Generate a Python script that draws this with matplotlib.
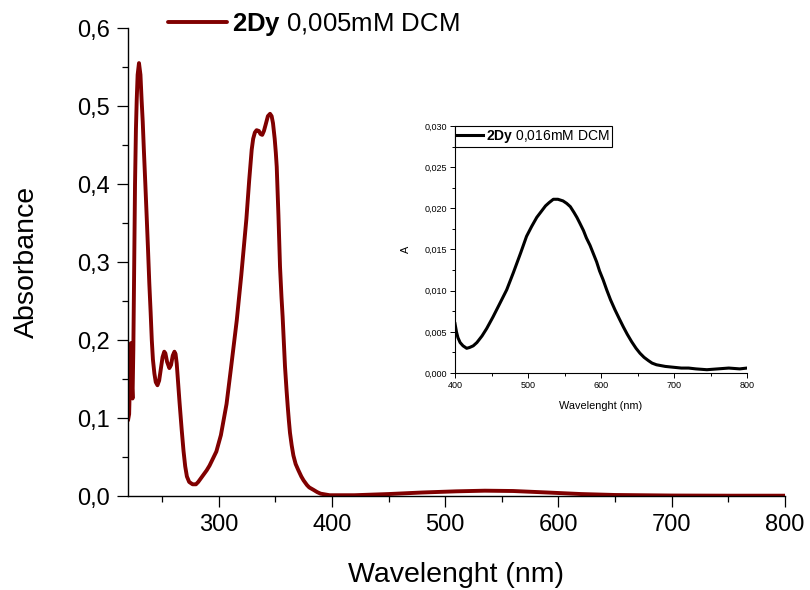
import matplotlib
matplotlib.use("Agg")
import matplotlib.pyplot as plt
from matplotlib.ticker import MultipleLocator

plt.rcParams['font.family'] = ['Liberation Sans', 'DejaVu Sans']
plt.rcParams['mathtext.fontset'] = 'custom'
plt.rcParams['mathtext.rm'] = 'Liberation Sans'
plt.rcParams['mathtext.bf'] = 'Liberation Sans:bold'

# ---- main spectrum (0,005 mM DCM) ----
main_nm = [220, 221, 222.5, 223.2, 224, 224.7, 225.5, 226.2, 227, 227.7, 228.5, 229.7, 231, 232,
           233, 234, 235.3, 236.5, 237.7, 238.8, 240, 241, 242, 243.3, 244.5, 246, 247.5, 249,
           250.5, 252, 253, 254.5, 256.5, 258, 259.5, 261, 262, 263, 264, 265.5, 267.4, 269,
           270.5, 272, 274, 277, 280, 282, 285, 289.5, 292, 294, 296, 298, 302, 307, 311, 316,
           320, 324.5, 327, 329.2, 330.5, 332, 333.5, 335.5, 337, 338.5, 340, 341.5, 343.5,
           345.4, 346.8, 348, 349.5, 350.5, 351.3, 352.8, 354.2, 355.5, 356.5, 358.6, 360, 361,
           362, 363, 364.5, 366, 368, 370.4, 373, 375, 378, 380, 383.6, 387, 390, 394, 398, 420,
           450, 480, 510, 535, 560, 590, 620, 650, 700, 750, 800]
main_abs = [0.097, 0.105, 0.196, 0.150, 0.125, 0.187, 0.30, 0.400, 0.470, 0.508, 0.540, 0.555,
            0.540, 0.508, 0.480, 0.444, 0.400, 0.358, 0.315, 0.273, 0.235, 0.200, 0.175, 0.157,
            0.146, 0.142, 0.148, 0.163, 0.178, 0.185, 0.183, 0.172, 0.164, 0.168, 0.180, 0.185,
            0.182, 0.170, 0.150, 0.120, 0.085, 0.058, 0.038, 0.025, 0.018, 0.015, 0.015, 0.018,
            0.024, 0.033, 0.039, 0.045, 0.051, 0.057, 0.078, 0.118, 0.165, 0.225, 0.283, 0.355,
            0.405, 0.444, 0.458, 0.466, 0.469, 0.468, 0.464, 0.463, 0.468, 0.476, 0.487, 0.490,
            0.487, 0.478, 0.458, 0.440, 0.422, 0.360, 0.294, 0.255, 0.230, 0.166, 0.135, 0.115,
            0.097, 0.081, 0.065, 0.052, 0.041, 0.033, 0.025, 0.020, 0.014, 0.011, 0.008, 0.005,
            0.003, 0.002, 0.001, 0.001, 0.0025, 0.0045, 0.006, 0.0068, 0.0064, 0.0045, 0.0025,
            0.0013, 0.0006, 0.0004, 0.0004]

# ---- inset spectrum (0,016 mM DCM) ----
ins_nm = [400, 402, 404, 407, 411, 416, 420, 425, 430, 437, 443.4, 452, 460, 470.8, 480, 490,
          498, 505, 512, 518, 524, 529, 534.7, 541, 548, 553, 558, 563, 567, 571, 576, 580,
          585, 589.5, 594, 598, 603, 607.8, 613, 619, 625, 630.6, 636, 642, 648, 653.4, 659,
          665, 670, 676, 682, 688, 699, 710, 720, 730, 745, 760, 775, 790, 800]
ins_A = [0.0060, 0.0050, 0.0043, 0.0037, 0.0033, 0.0030, 0.0031, 0.0033, 0.0037, 0.0045,
         0.0054, 0.0068, 0.0082, 0.0101, 0.0122, 0.0146, 0.0166, 0.0178, 0.0189, 0.0196,
         0.0203, 0.0207, 0.0211, 0.0211, 0.0209, 0.0206, 0.0202, 0.0195, 0.0189, 0.0182,
         0.0173, 0.0164, 0.0155, 0.0145, 0.0135, 0.0124, 0.0113, 0.0101, 0.0089, 0.0077,
         0.0066, 0.0056, 0.0047, 0.0038, 0.0030, 0.0024, 0.0019, 0.0015, 0.0012, 0.0010,
         0.0009, 0.0008, 0.0007, 0.0006, 0.0006, 0.0005, 0.0004, 0.0005, 0.0006, 0.0005, 0.0006]

main_xticks = [300, 400, 500, 600, 700, 800]
main_yticks = [0.0, 0.1, 0.2, 0.3, 0.4, 0.5, 0.6]
main_ylabels = ['0,0', '0,1', '0,2', '0,3', '0,4', '0,5', '0,6']
ins_xticks = [400, 500, 600, 700, 800]
ins_yticks = [0.0, 0.005, 0.010, 0.015, 0.020, 0.025, 0.030]
ins_ylabels = ['0,000', '0,005', '0,010', '0,015', '0,020', '0,025', '0,030']

main_label = r'$\bf{2Dy}$ 0,005mM DCM'
ins_label = r'$\bf{2Dy}$ 0,016mM DCM'

fig = plt.figure(figsize=(8.1, 5.9), dpi=100)
ax = fig.add_axes([128/810, 1-496/590, 657/810, 468/590])
line, = ax.plot(main_nm, main_abs, color='#800000', lw=2.8, solid_joinstyle='round',
                solid_capstyle='round')
ax.set_xlim(220, 800)
ax.set_ylim(0, 0.6)
for s in ['top', 'right']:
    ax.spines[s].set_visible(False)
for s in ['left', 'bottom']:
    ax.spines[s].set_linewidth(1.0)
ax.set_xticks(main_xticks)
ax.set_xticklabels([str(t) for t in main_xticks])
ax.xaxis.set_minor_locator(MultipleLocator(50))
ax.set_yticks(main_yticks)
ax.set_yticklabels(main_ylabels)
ax.yaxis.set_minor_locator(MultipleLocator(0.05))
ax.tick_params(which='major', direction='out', length=8, width=0.9, labelsize=17, pad=5)
ax.tick_params(which='minor', direction='out', length=4, width=0.9)
ax.set_xlabel('Wavelenght (nm)', fontsize=20.5, labelpad=19)
ax.set_ylabel('Absorbance', fontsize=20.5, labelpad=27)
fig.legend(handles=[line], labels=[main_label], loc='center left',
           bbox_to_anchor=(168/810, 1-24/590), frameon=False, fontsize=18.5,
           handlelength=2.3, handletextpad=0.2, borderpad=0, borderaxespad=0)

# inset
ai = fig.add_axes([455/810, 1-373/590, 292/810, 247/590])
iline, = ai.plot(ins_nm, ins_A, color='black', lw=2.2, solid_joinstyle='round')
ai.set_xlim(400, 800)
ai.set_ylim(0, 0.030)
for s in ['top', 'right']:
    ai.spines[s].set_visible(False)
for s in ['left', 'bottom']:
    ai.spines[s].set_linewidth(0.8)
ai.set_xticks(ins_xticks)
ai.set_xticklabels([str(t) for t in ins_xticks])
ai.xaxis.set_minor_locator(MultipleLocator(50))
ai.set_yticks(ins_yticks)
ai.set_yticklabels(ins_ylabels)
ai.yaxis.set_minor_locator(MultipleLocator(0.0025))
ai.tick_params(which='major', direction='out', length=3.5, width=0.7, labelsize=6.5, pad=2)
ai.tick_params(which='minor', direction='out', length=2, width=0.7)
ai.set_xlabel('Wavelenght (nm)', fontsize=7.8, labelpad=8)
ai.set_ylabel('A', fontsize=7.8, labelpad=10)
leg = ai.legend(handles=[iline], labels=[ins_label], loc='upper left', fontsize=10,
                frameon=True, fancybox=False, borderaxespad=0, borderpad=0.15,
                handlelength=1.9, handletextpad=0.2)
leg.get_frame().set_edgecolor('black')
leg.get_frame().set_linewidth(0.8)
leg.get_frame().set_alpha(1)

fig.savefig('out.png', dpi=100)
